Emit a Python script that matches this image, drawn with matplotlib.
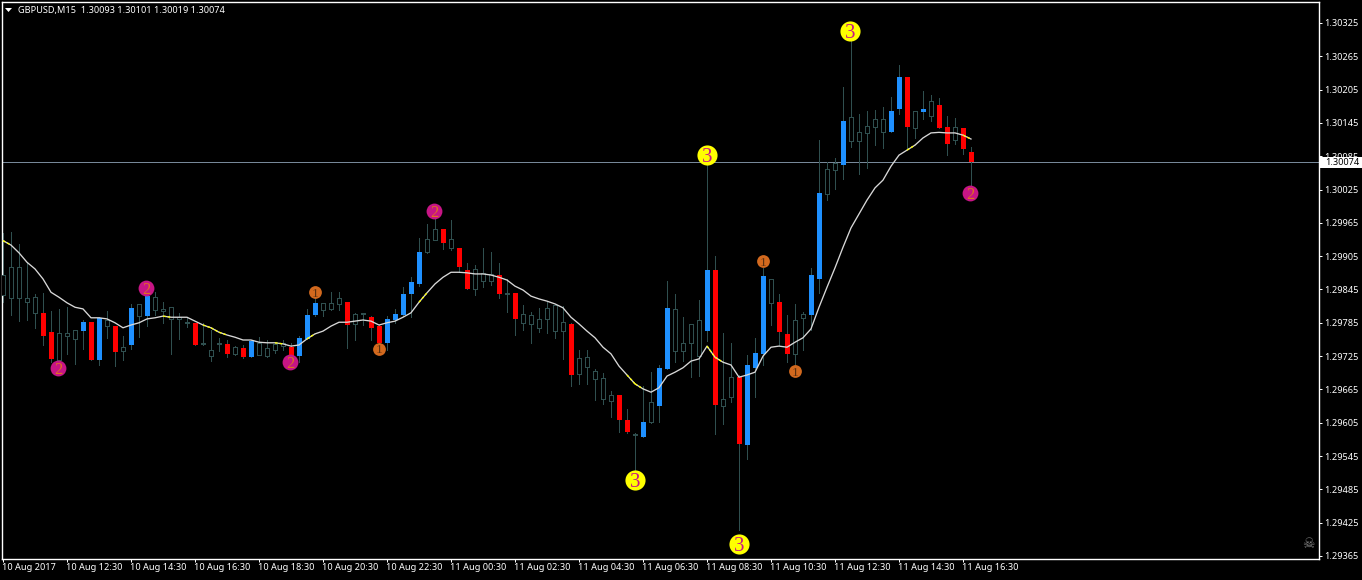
import matplotlib
matplotlib.use("Agg")
import matplotlib.pyplot as plt
from matplotlib.patches import Polygon, Rectangle
from matplotlib.transforms import ScaledTranslation
import numpy as np

# GBPUSD M15 candles, one value per bar, oldest first
highs = [1.29947, 1.29948, 1.29927, 1.29894, 1.29837, 1.29839, 1.29806, 1.29810, 1.29813, 1.29772,
         1.29790, 1.29786, 1.29795, 1.29806, 1.29779, 1.29761, 1.29819, 1.29819, 1.29839, 1.29840,
         1.29822, 1.29813, 1.29803, 1.29794, 1.29785, 1.29785, 1.29772, 1.29758, 1.29754, 1.29743,
         1.29745, 1.29754, 1.29759, 1.29754, 1.29750, 1.29754, 1.29749, 1.29761, 1.29810, 1.29830,
         1.29821, 1.29840, 1.29840, 1.29822, 1.29803, 1.29803, 1.29797, 1.29781, 1.29797, 1.29810,
         1.29849, 1.29867, 1.29938, 1.29963, 1.29974, 1.29954, 1.29970, 1.29920, 1.29893, 1.29889,
         1.29920, 1.29912, 1.29893, 1.29864, 1.29839, 1.29817, 1.29804, 1.29812, 1.29822, 1.29817,
         1.29815, 1.29785, 1.29736, 1.29736, 1.29702, 1.29695, 1.29662, 1.29655, 1.29630, 1.29587,
         1.29671, 1.29696, 1.29709, 1.29860, 1.29837, 1.29795, 1.29783, 1.29826, 1.30078, 1.29905,
         1.29767, 1.29749, 1.29691, 1.29727, 1.29758, 1.29884, 1.29864, 1.29837, 1.29799, 1.29819,
         1.29804, 1.29884, 1.30114, 1.30074, 1.30082, 1.30209, 1.30298, 1.30161, 1.30166, 1.30168,
         1.30173, 1.30191, 1.30249, 1.30227, 1.30166, 1.30202, 1.30195, 1.30190, 1.30157, 1.30154,
         1.30136, 1.30101]
lows = [1.29822, 1.29799, 1.29788, 1.29790, 1.29776, 1.29745, 1.29714, 1.29714, 1.29729, 1.29711,
        1.29738, 1.29718, 1.29709, 1.29758, 1.29707, 1.29718, 1.29738, 1.29759, 1.29779, 1.29799,
        1.29785, 1.29729, 1.29756, 1.29777, 1.29745, 1.29745, 1.29716, 1.29734, 1.29723, 1.29727,
        1.29722, 1.29723, 1.29727, 1.29723, 1.29731, 1.29736, 1.29718, 1.29714, 1.29756, 1.29797,
        1.29797, 1.29808, 1.29808, 1.29740, 1.29754, 1.29781, 1.29754, 1.29745, 1.29736, 1.29785,
        1.29797, 1.29795, 1.29851, 1.29911, 1.29934, 1.29918, 1.29916, 1.29876, 1.29846, 1.29835,
        1.29849, 1.29853, 1.29830, 1.29804, 1.29763, 1.29772, 1.29749, 1.29768, 1.29767, 1.29758,
        1.29720, 1.29671, 1.29675, 1.29675, 1.29646, 1.29639, 1.29615, 1.29588, 1.29587, 1.29516,
        1.29579, 1.29605, 1.29606, 1.29702, 1.29714, 1.29716, 1.29687, 1.29689, 1.29752, 1.29585,
        1.29603, 1.29642, 1.29412, 1.29540, 1.29651, 1.29709, 1.29781, 1.29745, 1.29714, 1.29709,
        1.29736, 1.29772, 1.29839, 1.30006, 1.30026, 1.30044, 1.30101, 1.30053, 1.30064, 1.30105,
        1.30100, 1.30128, 1.30161, 1.30100, 1.30118, 1.30152, 1.30148, 1.30136, 1.30087, 1.30107,
        1.30089, 1.30019]
# upper and lower end of each candle body
body_top = [1.29871, 1.29885, 1.29885, 1.29830, 1.29831, 1.29803, 1.29768, 1.29767, 1.29767, 1.29772,
            1.29786, 1.29786, 1.29794, 1.29790, 1.29779, 1.29741, 1.29812, 1.29819, 1.29833, 1.29831,
            1.29810, 1.29813, 1.29795, 1.29786, 1.29785, 1.29749, 1.29736, 1.29749, 1.29747, 1.29741,
            1.29740, 1.29752, 1.29749, 1.29740, 1.29747, 1.29749, 1.29741, 1.29758, 1.29799, 1.29821,
            1.29821, 1.29821, 1.29830, 1.29822, 1.29801, 1.29803, 1.29795, 1.29779, 1.29792, 1.29801,
            1.29837, 1.29858, 1.29912, 1.29936, 1.29954, 1.29954, 1.29936, 1.29920, 1.29880, 1.29882,
            1.29875, 1.29873, 1.29871, 1.29839, 1.29839, 1.29801, 1.29799, 1.29792, 1.29812, 1.29817,
            1.29786, 1.29783, 1.29722, 1.29723, 1.29698, 1.29686, 1.29655, 1.29655, 1.29610, 1.29585,
            1.29606, 1.29642, 1.29704, 1.29812, 1.29810, 1.29749, 1.29783, 1.29790, 1.29880, 1.29880,
            1.29648, 1.29687, 1.29687, 1.29709, 1.29731, 1.29869, 1.29864, 1.29822, 1.29765, 1.29790,
            1.29801, 1.29871, 1.30019, 1.30062, 1.30073, 1.30148, 1.30155, 1.30128, 1.30139, 1.30152,
            1.30152, 1.30166, 1.30227, 1.30227, 1.30166, 1.30170, 1.30184, 1.30177, 1.30137, 1.30137,
            1.30136, 1.30093]
body_bottom = [1.29835, 1.29830, 1.29830, 1.29822, 1.29803, 1.29761, 1.29720, 1.29718, 1.29761, 1.29756,
               1.29770, 1.29718, 1.29718, 1.29779, 1.29732, 1.29734, 1.29745, 1.29797, 1.29797, 1.29808,
               1.29806, 1.29792, 1.29792, 1.29785, 1.29745, 1.29747, 1.29725, 1.29747, 1.29729, 1.29729,
               1.29723, 1.29723, 1.29727, 1.29725, 1.29736, 1.29743, 1.29723, 1.29725, 1.29756, 1.29799,
               1.29808, 1.29810, 1.29819, 1.29781, 1.29783, 1.29801, 1.29776, 1.29749, 1.29749, 1.29790,
               1.29799, 1.29837, 1.29855, 1.29912, 1.29934, 1.29929, 1.29920, 1.29885, 1.29846, 1.29846,
               1.29860, 1.29860, 1.29837, 1.29837, 1.29792, 1.29785, 1.29783, 1.29776, 1.29792, 1.29770,
               1.29770, 1.29691, 1.29693, 1.29705, 1.29684, 1.29648, 1.29644, 1.29610, 1.29588, 1.29583,
               1.29579, 1.29606, 1.29635, 1.29702, 1.29734, 1.29734, 1.29749, 1.29725, 1.29770, 1.29637,
               1.29635, 1.29651, 1.29567, 1.29565, 1.29704, 1.29729, 1.29821, 1.29768, 1.29729, 1.29729,
               1.29794, 1.29799, 1.29864, 1.30017, 1.30060, 1.30069, 1.30112, 1.30112, 1.30127, 1.30137,
               1.30128, 1.30128, 1.30170, 1.30137, 1.30136, 1.30164, 1.30157, 1.30136, 1.30107, 1.30114,
               1.30098, 1.30074]
# r = red body, b = blue body, n = hollow body
kinds = list("nnnnnrrnnnbrbnrnbnbnnnnnrnnnrn"
             "rbnnnnrbbbnnnrnnrrbbbbbnnrnrrn"
             "nnrnrnnnnnnrnnnnnrrnbnbbnnnnbr"
             "nnrbbbnrrnnbbnnbnnnnnbbrnbnrrnrr")
# moving average line, yellow where the segment starts at one of these bars
ma_line = [1.29933, 1.29925, 1.29911, 1.29894, 1.29882, 1.29864, 1.29840, 1.29831, 1.29821, 1.29813,
           1.29810, 1.29794, 1.29794, 1.29792, 1.29785, 1.29776, 1.29781, 1.29785, 1.29792, 1.29794,
           1.29797, 1.29795, 1.29795, 1.29795, 1.29788, 1.29781, 1.29776, 1.29768, 1.29763, 1.29759,
           1.29754, 1.29754, 1.29750, 1.29749, 1.29749, 1.29747, 1.29743, 1.29745, 1.29756, 1.29765,
           1.29770, 1.29779, 1.29786, 1.29786, 1.29788, 1.29790, 1.29788, 1.29781, 1.29785, 1.29788,
           1.29795, 1.29803, 1.29822, 1.29839, 1.29855, 1.29867, 1.29876, 1.29876, 1.29875, 1.29873,
           1.29873, 1.29871, 1.29867, 1.29862, 1.29851, 1.29844, 1.29833, 1.29828, 1.29824, 1.29819,
           1.29812, 1.29795, 1.29783, 1.29770, 1.29758, 1.29741, 1.29729, 1.29707, 1.29691, 1.29675,
           1.29666, 1.29660, 1.29668, 1.29689, 1.29696, 1.29704, 1.29716, 1.29720, 1.29743, 1.29723,
           1.29714, 1.29709, 1.29687, 1.29691, 1.29696, 1.29725, 1.29741, 1.29743, 1.29741, 1.29750,
           1.29758, 1.29774, 1.29813, 1.29849, 1.29884, 1.29921, 1.29956, 1.29981, 1.30006, 1.30028,
           1.30042, 1.30067, 1.30087, 1.30096, 1.30105, 1.30118, 1.30127, 1.30128, 1.30127, 1.30127,
           1.30123, 1.30116]
yellow_bars = [0, 20, 25, 26, 27, 34, 38, 52, 78, 79, 88, 89, 113, 120]

# numbered signal circles: bar, price
signal_1 = [(39, 1.29840), (47, 1.29738), (95, 1.29896), (99, 1.29698)]
signal_2 = [(6.9, 1.29704), (17.9, 1.29848), (35.9, 1.29715), (53.9, 1.29987), (120.9, 1.30019)]
signal_3 = [(79, 1.29502), (88, 1.30087), (92, 1.29387), (105.9, 1.30310)]

last_price = 1.30074
price_ticks = [1.30325, 1.30265, 1.30205, 1.30145, 1.30085, 1.30025, 1.29965, 1.29905, 1.29845,
               1.29785, 1.29725, 1.29665, 1.29605, 1.29545, 1.29485, 1.29425, 1.29365]
time_ticks = list(range(0, 121, 8))
time_labels = ["10 Aug 2017", "10 Aug 12:30", "10 Aug 14:30", "10 Aug 16:30", "10 Aug 18:30",
               "10 Aug 20:30", "10 Aug 22:30", "11 Aug 00:30", "11 Aug 02:30", "11 Aug 04:30",
               "11 Aug 06:30", "11 Aug 08:30", "11 Aug 10:30", "11 Aug 12:30", "11 Aug 14:30",
               "11 Aug 16:30"]
header = "GBPUSD,M15  1.30093 1.30101 1.30019 1.30074"

plt.rcParams['font.family'] = ['Noto Sans', 'DejaVu Sans']
W, H = 1362, 580
px = 72 / 100  # one pixel in points
LEFT, RIGHT, TOP, BOTTOM = 1.8, 1319.2, 1.8, 559.2
LABEL_SIZE = 6.6

fig = plt.figure(figsize=(W / 100, H / 100), dpi=100, facecolor='black')
ax = fig.add_axes([LEFT / W, 1 - BOTTOM / H, (RIGHT - LEFT) / W, (BOTTOM - TOP) / H], facecolor='black')

bars = np.arange(len(highs))
top = np.array(body_top)
bottom = np.array(body_bottom)
slate = '#2f4f4f'
body_col = {'r': '#ff0000', 'b': '#1e90ff'}

ax.axhline(last_price, color='#778899', lw=px, zorder=1, antialiased=False)
ax.vlines(bars, lows, highs, color=slate, lw=px, zorder=2, antialiased=False)
for k, col in body_col.items():
    m = np.array([c == k for c in kinds])
    ax.bar(bars[m], (top - bottom)[m], bottom=bottom[m], width=5 / 8, color=col, lw=0,
           zorder=3, antialiased=False)
m = np.array([c == 'n' for c in kinds])
ax.bar(bars[m], (top - bottom)[m], bottom=bottom[m], width=4 / 8, facecolor='black', edgecolor=slate,
       lw=px, zorder=3, antialiased=False)

ax.plot(bars, ma_line, color='#d8d8d8', lw=0.95, zorder=4)
for b in yellow_bars:
    ax.plot(bars[b:b + 2], ma_line[b:b + 2], color='#ffff00', lw=0.95, ls=(0, (2, 1.5)), zorder=5)

# digit, points, circle colour, text colour, marker size, font size
styles = [("1", signal_1, '#d2691e', '#5a3010', 9.2, 9.5),
          ("2", signal_2, '#c71585', '#e07020', 11.4, 12),
          ("3", signal_3, '#ffff00', '#c71585', 14.5, 15)]
for digit, signals, face, txt, size, fs in styles:
    xs = [s[0] for s in signals]
    ys = [s[1] for s in signals]
    ax.plot(xs, ys, 'o', ms=size, mfc=face, mec='none', zorder=6)
    for x, y in zip(xs, ys):
        ax.text(x, y, digit, color=txt, fontsize=fs, family='Liberation Serif', ha='center',
                va='center_baseline', zorder=7)

ax.set_xlim((LEFT - 3.0) / 8, (RIGHT - 3.0) / 8)
scale = 0.0006 / 33.31  # price per pixel
ax.set_ylim(1.30325 - (BOTTOM - 23) * scale, 1.30325 + (23 - TOP) * scale)

for s in ax.spines.values():
    s.set_color('white')
    s.set_linewidth(1.0)

ax.yaxis.tick_right()
ax.set_yticks(price_ticks)
ax.set_yticklabels([f"{p:.5f}" for p in price_ticks])
ax.tick_params(axis='y', colors='white', length=3 * px, width=px, pad=1.5, labelsize=LABEL_SIZE)
ax.set_xticks(time_ticks)
ax.set_xticklabels(time_labels, ha='left')
ax.tick_params(axis='x', colors='white', length=3 * px, width=px, pad=0.8, labelsize=LABEL_SIZE)
nudge = ScaledTranslation(-1 / 100, 0, fig.dpi_scale_trans)
for lab in ax.get_xticklabels():
    lab.set_transform(lab.get_transform() + nudge)

# last price box on the right axis
ybox = 1 - 162.5 / H
fig.add_artist(Rectangle((1320 / W, ybox - 5.5 / H), 42 / W, 11 / H, transform=fig.transFigure,
                         fc='white', ec='none', zorder=8))
fig.text(1325 / W, ybox, f"{last_price:.5f}", color='black', fontsize=LABEL_SIZE, va='center', ha='left', zorder=9)

fig.text(18 / W, 1 - 10 / H, header, color='white', fontsize=LABEL_SIZE, va='center', ha='left')
fig.add_artist(Polygon([(5 / W, 1 - 8 / H), (12 / W, 1 - 8 / H), (8.5 / W, 1 - 12 / H)],
                       transform=fig.transFigure, fc='white', ec='none'))
fig.text(1308.5 / W, 1 - 544 / H, "\u2620", color='#808080', fontsize=10, family='DejaVu Sans',
         ha='center', va='center')

fig.savefig('out.png', dpi=100, facecolor='black')
